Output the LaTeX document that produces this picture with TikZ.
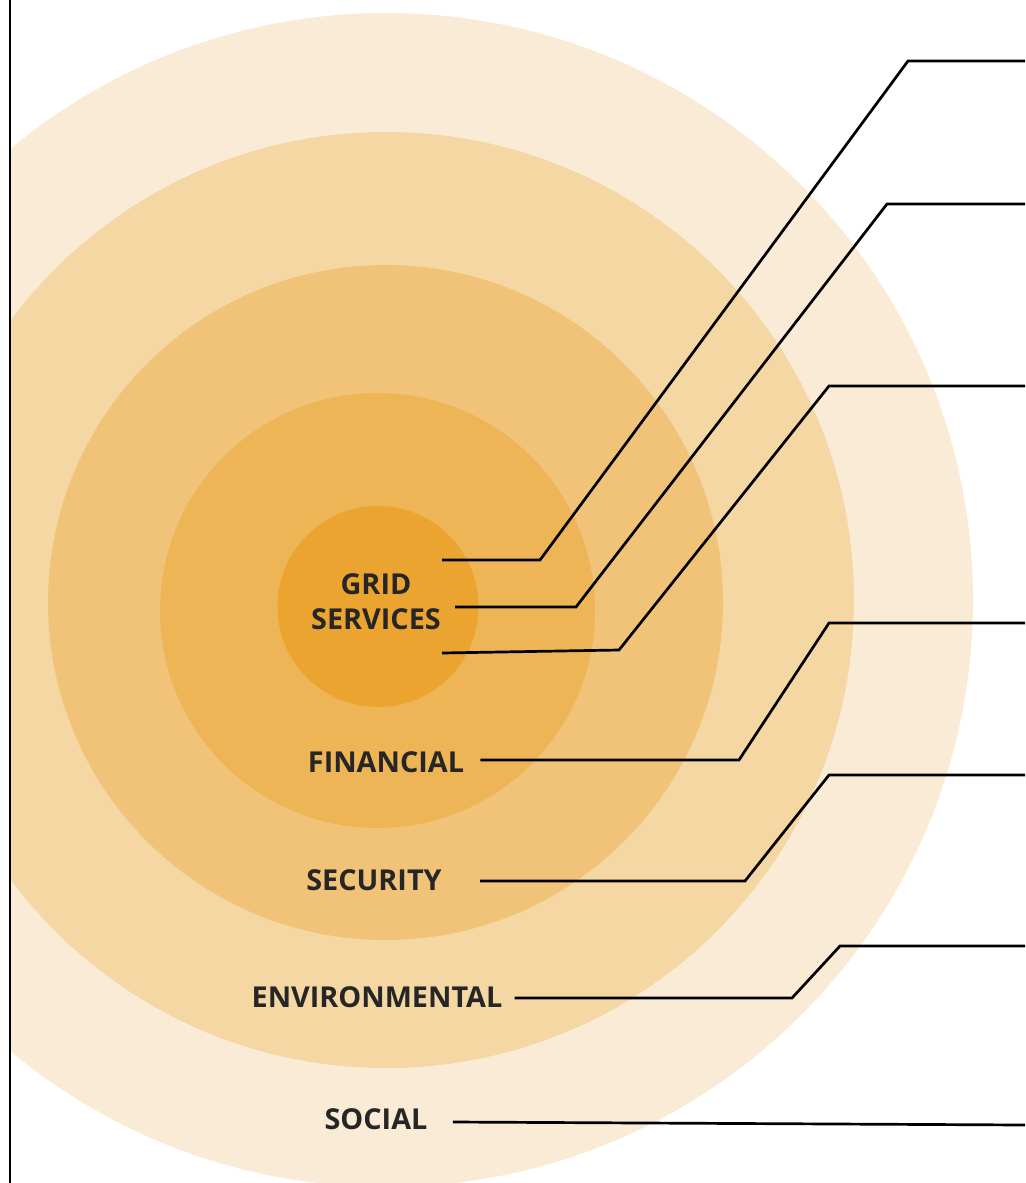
\documentclass[tikz,border=0pt]{standalone}
\usepackage{fontspec}
\setmainfont{Open Sans}
\definecolor{ringA}{HTML}{FAEBD6}
\definecolor{ringB}{HTML}{F5D7A4}
\definecolor{ringC}{HTML}{F0C379}
\definecolor{ringD}{HTML}{EEB557}
\definecolor{ringE}{HTML}{EBA430}
\definecolor{labtext}{HTML}{262626}
\tikzset{
  ringlabel/.style={font=\fontsize{14.4}{17.5}\selectfont\bfseries, text=labtext, align=center, inner sep=0pt},
  leader/.style={draw=black, line width=1.35pt, line join=miter}
}
\begin{document}
\begin{tikzpicture}[x=0.5pt, y=-0.5pt]
            \useasboundingbox (0,0) rectangle (1025,1183);
            \begin{scope}
              \clip (10,0) rectangle (1025,1183);
              \fill[ringA] (386,600) circle (587);
              \fill[ringB] (386,600) circle (468);
              \fill[ringC] (385.5,602.5) circle (337.5);
              \fill[ringD] (377.5,610.5) circle (217.5);
              \fill[ringE] (378,606.5) circle (100.5);
            \end{scope}
            \draw[line width=0.8pt] (10,0) -- (10,1183);
            % labels
            \node[ringlabel] (grid) at (376,602) {GRID\\SERVICES};
            \node[ringlabel] (fin) at (386,762) {FINANCIAL};
            \node[ringlabel] (sec) at (374,880) {SECURITY};
            \node[ringlabel] (env) at (377,997) {ENVIRONMENTAL};
            \node[ringlabel] (soc) at (376,1119) {SOCIAL};
            % leader ends
            \coordinate (g1) at (442,560);
            \coordinate (g2) at (455,607);
            \coordinate (g3) at (442,653);
            \coordinate (r1) at (1025,61);
            \coordinate (r2) at (1025,204);
            \coordinate (r3) at (1025,386);
            \coordinate (r4) at (1025,623);
            \coordinate (r5) at (1025,775);
            \coordinate (r6) at (1025,946);
            \coordinate (r7) at (1025,1125);
            \draw[leader] (g1) -- (540,560) -- (908,61) -- (r1);
            \draw[leader] (g2) -- (576,607) -- (887,204) -- (r2);
            \draw[leader] (g3) -- (619,650) -- (829,386) -- (r3);
            \draw[leader] ([xshift=8pt]fin.east |- 0,760) -- (739,760) -- (829,623) -- (r4);
            \draw[leader] (480,881) -- (745,881) -- (829,775) -- (r5);
            \draw[leader] ([xshift=6pt]env.east |- 0,998) -- (792,998) -- (840,946) -- (r6);
            \draw[leader] ([xshift=12.5pt]soc.east |- 0,1122) -- (r7);
        \end{tikzpicture}
\end{document}
